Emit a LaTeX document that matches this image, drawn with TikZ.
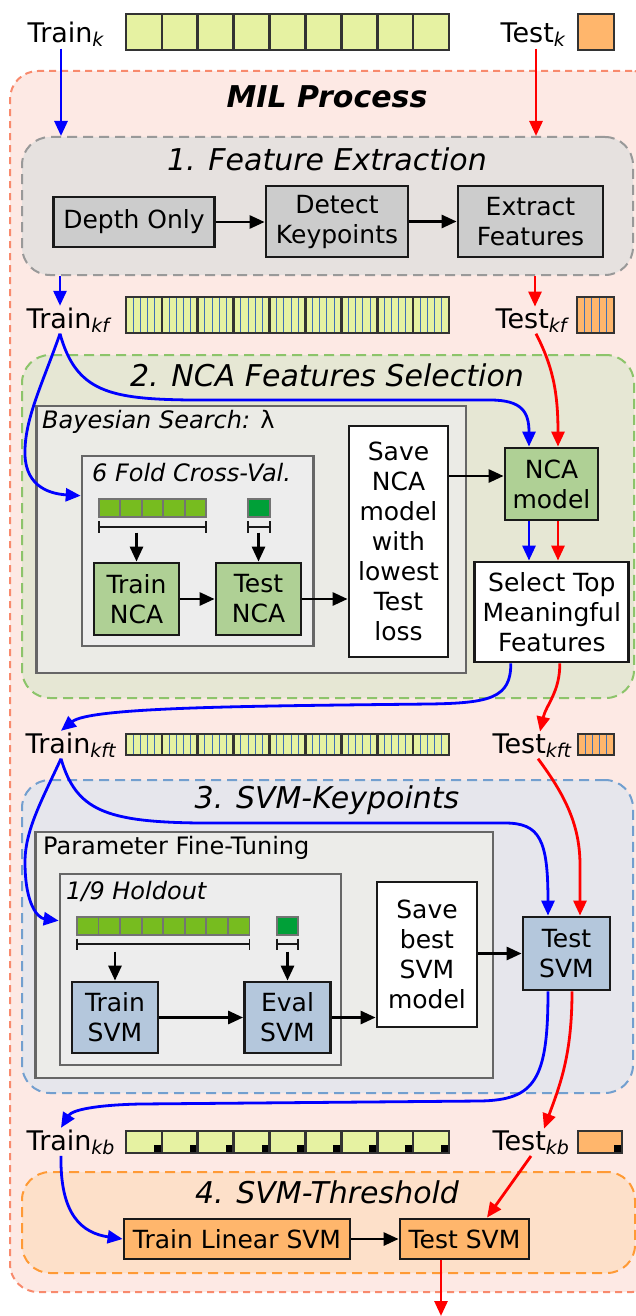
\documentclass[tikz,border=0pt]{standalone}
\usepackage{fontspec}
\setmainfont{DejaVu Sans}
\usetikzlibrary{arrows.meta,calc}

\definecolor{milfill}{HTML}{FDE9E4}
\definecolor{milline}{HTML}{F88A6D}
\definecolor{fefill}{HTML}{E6E1DF}
\definecolor{feline}{HTML}{999999}
\definecolor{ncafill}{HTML}{E6E7D4}
\definecolor{ncaline}{HTML}{8CC46A}
\definecolor{svmfill}{HTML}{E6E6EC}
\definecolor{svmline}{HTML}{729FCF}
\definecolor{thrfill}{HTML}{FDE0C9}
\definecolor{thrline}{HTML}{FF9A35}
\definecolor{innerfill}{HTML}{EBEBE6}
\definecolor{innerfillb}{HTML}{EDEDED}
\definecolor{innerline}{HTML}{666666}
\definecolor{nodegray}{HTML}{CCCCCC}
\definecolor{nodegreen}{HTML}{AFD095}
\definecolor{nodeblue}{HTML}{B4C7DC}
\definecolor{nodeorange}{HTML}{FFB66C}
\definecolor{celllime}{HTML}{E6F2A2}
\definecolor{cellgreen}{HTML}{77BC1F}
\definecolor{celltest}{HTML}{00A038}
\definecolor{cellline}{HTML}{333333}
\definecolor{stripe}{HTML}{3F6FB5}
\definecolor{arrowblue}{HTML}{0000FF}
\definecolor{arrowred}{HTML}{FF0000}

\newcommand\boxfont{\fontsize{25}{30}\selectfont}
\newcommand\regionfont{\fontsize{30}{36}\selectfont\itshape}
\newcommand\innerfont{\fontsize{24}{29}\selectfont}
\newcommand\setfont{\fontsize{27}{32}\selectfont}
\newcommand\dsname[2]{#1\raisebox{-4pt}{\fontsize{19}{19}\selectfont\itshape #2}}

\begin{document}
\begin{tikzpicture}[x=1pt,y=-1pt,
  region/.style={rounded corners=28pt, line width=2pt, dash pattern=on 10pt off 6pt, inner sep=0pt},
  innerbox/.style={draw=innerline, line width=2.6pt, inner sep=0pt},
  box/.style={draw=black!90, line width=2.8pt, inner sep=0pt, align=center, font=\boxfont},
  graynode/.style={box, fill=nodegray},
  greennode/.style={box, fill=nodegreen},
  bluenode/.style={box, fill=nodeblue},
  orangenode/.style={box, fill=nodeorange},
  whitenode/.style={box, fill=white},
  title/.style={font=\regionfont, inner sep=0pt},
  setlabel/.style={font=\setfont, inner sep=1.5pt, anchor=base west},
  cellborder/.style={draw=cellline, line width=2.6pt},
  smallcell/.style={draw=black!55, line width=1.8pt},
  stripeline/.style={draw=stripe, line width=1pt},
  bracket/.style={draw=black!90, line width=1.8pt},
  karrow/.style={draw=black, line width=2.8pt, -{Triangle[length=15pt,width=13pt]}},
  barrow/.style={draw=arrowblue, line width=2.8pt, -{Triangle[length=15pt,width=13pt]}},
  rarrow/.style={draw=arrowred, line width=2.8pt, -{Triangle[length=15pt,width=13pt]}}
]
\useasboundingbox (0,0) rectangle (636,1316);

% ---------- outer and stage regions ----------
\node[region, fill=milfill, draw=milline, dash pattern=on 7pt off 5pt,
      minimum width=650pt, minimum height=1221pt] (mil) at (335,681.5) {};
\node[font=\fontsize{30}{36}\selectfont\bfseries\itshape, inner sep=0pt] (miltitle) at (327,97) {MIL Process};

\node[region, fill=fefill, draw=feline, minimum width=611pt, minimum height=138pt] (fe) at (327.5,206) {};
\node[title] (fetitle) at (327,159) {1. Feature Extraction};

\node[region, fill=ncafill, draw=ncaline, minimum width=612pt, minimum height=343pt] (nca) at (328,526.5) {};
\node[title] (ncatitle) at (327,375) {2. NCA Features Selection};

\node[region, fill=svmfill, draw=svmline, minimum width=611pt, minimum height=313pt] (svm) at (327.5,936.5) {};
\node[title] (svmtitle) at (327,800) {3. SVM-Keypoints};

\node[region, fill=thrfill, draw=thrline, minimum width=613pt, minimum height=101pt] (thr) at (328.5,1222.5) {};
\node[title] (thrtitle) at (327,1192) {4. SVM-Threshold};

% ---------- inner search boxes ----------
\node[innerbox, fill=innerfill, minimum width=429.5pt, minimum height=267pt] (bay) at (251.25,539.5) {};
\node[font=\innerfont\itshape, anchor=west, inner sep=0pt] (baylabel) at (42,422) {Bayesian Search: {\upshape λ}};
\node[innerbox, fill=innerfillb, minimum width=231.6pt, minimum height=190pt] (fold) at (197.8,551) {};
\node[font=\innerfont\itshape, anchor=west, inner sep=0pt] (foldlabel) at (92,473) {6 Fold Cross-Val.};

\node[innerbox, fill=innerfill!60!innerfillb, minimum width=457.3pt, minimum height=246pt] (param) at (264.35,955) {};
\node[font=\innerfont, anchor=west, inner sep=0pt] (paramlabel) at (43,848) {Parameter Fine-Tuning};
\node[innerbox, fill=innerfillb, minimum width=281pt, minimum height=191pt] (hold) at (200.5,969.5) {};
\node[font=\innerfont\itshape, anchor=west, inner sep=0pt] (holdlabel) at (66,891) {1/9 Holdout};

% ---------- process steps ----------
\node[graynode, minimum width=161pt, minimum height=50pt] (depth) at (134,222) {Depth Only};
\node[graynode, minimum width=142pt, minimum height=71pt] (detect) at (337,221.5) {Detect\\Keypoints};
\node[graynode, minimum width=145pt, minimum height=71pt] (extract) at (530.5,221.5) {Extract\\Features};

\node[greennode, minimum width=85pt, minimum height=72pt] (trnca) at (136.5,599) {Train\\NCA};
\node[greennode, minimum width=85pt, minimum height=72pt] (tenca) at (258.5,599) {Test\\NCA};
\node[whitenode, minimum width=99pt, minimum height=231pt] (savenca) at (398.5,541.5) {Save\\NCA\\model\\with\\lowest\\Test\\loss};
\node[greennode, minimum width=93pt, minimum height=72pt] (ncam) at (551.5,484) {NCA\\model};
\node[whitenode, minimum width=154pt, minimum height=100pt] (select) at (551.8,612) {Select Top\\Meaningful\\Features};

\node[bluenode, minimum width=86pt, minimum height=71pt] (trsvm) at (115,1017.5) {Train\\SVM};
\node[bluenode, minimum width=86pt, minimum height=71pt] (evsvm) at (287.5,1017.5) {Eval\\SVM};
\node[whitenode, minimum width=100pt, minimum height=145pt] (savesvm) at (427,954.5) {Save\\best\\SVM\\model};
\node[bluenode, minimum width=87pt, minimum height=73pt] (tesvm) at (566.5,953.5) {Test\\SVM};

\node[orangenode, minimum width=226pt, minimum height=40pt] (trlin) at (237,1239) {Train Linear SVM};
\node[orangenode, minimum width=129pt, minimum height=40pt] (thrtest) at (464.5,1239) {Test SVM};

% ---------- data sets ----------
\node[setlabel] (trk) at (26,43) {\dsname{Train}{k}};
\node[setlabel] (tek) at (499,43) {\dsname{Test}{k}};
\node[setlabel] (trkf) at (25,328) {\dsname{Train}{kf}};
\node[setlabel] (tekf) at (494,328) {\dsname{Test}{kf}};
\node[setlabel] (trkft) at (24,753) {\dsname{Train}{kft}};
\node[setlabel] (tekft) at (491,753) {\dsname{Test}{kft}};
\node[setlabel] (trkb) at (25,1150) {\dsname{Train}{kb}};
\node[setlabel] (tekb) at (491,1150) {\dsname{Test}{kb}};

% plain training bag and test bag
\fill[celllime] (126,14) rectangle (449,50);
\foreach \i in {0,...,8} \draw[cellborder] ({126+\i*35.89},14) rectangle ++(35.89,36);
\draw[cellborder, fill=nodeorange] (578,14) rectangle (614,50);

% bags with extracted features (striped cells)
\fill[celllime] (126,297) rectangle (449,333);
\foreach \i in {0,...,8} \foreach \j in {1,...,4}
  \draw[stripeline] ({126+\i*35.89+\j*7.18},297) -- ++(0,36);
\foreach \i in {0,...,8} \draw[cellborder] ({126+\i*35.89},297) rectangle ++(35.89,36);
\fill[nodeorange] (577,297) rectangle (614,333);
\foreach \j in {1,...,4} \draw[stripeline] ({577+\j*7.4},297) -- ++(0,36);
\draw[cellborder] (577,297) rectangle (614,333);

% bags with selected features
\fill[celllime] (126,734) rectangle (449,755);
\foreach \i in {0,...,8} \foreach \j in {1,...,4}
  \draw[stripeline] ({126+\i*35.89+\j*7.18},734) -- ++(0,21);
\foreach \i in {0,...,8} \draw[cellborder] ({126+\i*35.89},734) rectangle ++(35.89,21);
\fill[nodeorange] (578,734) rectangle (614,755);
\foreach \j in {1,...,4} \draw[stripeline] ({578+\j*7.2},734) -- ++(0,21);
\draw[cellborder] (578,734) rectangle (614,755);

% bags of keypoint scores
\fill[celllime] (126,1131) rectangle (449,1153);
\foreach \i in {0,...,8} \fill[black] ({126+(\i+1)*35.89-8},1145) rectangle ++(8,8);
\foreach \i in {0,...,8} \draw[cellborder] ({126+\i*35.89},1131) rectangle ++(35.89,22);
\fill[nodeorange] (578,1131) rectangle (622,1153);
\fill[black] (614,1145) rectangle (622,1153);
\draw[cellborder] (578,1131) rectangle (622,1153);

% ---------- cross-validation folds ----------
\foreach \i in {0,...,4} \draw[smallcell, fill=cellgreen] ({98.6+\i*21.5},499) rectangle ++(21.5,18);
\draw[smallcell, fill=celltest] (248,499) rectangle (270,517);
\draw[bracket] (98.6,527) -- (206,527) (98.6,521) -- (98.6,533) (206,521) -- (206,533);
\draw[bracket] (248,527) -- (270,527) (248,521) -- (248,533) (270,521) -- (270,533);

\foreach \i in {0,...,7} \draw[smallcell, fill=cellgreen] ({77+\i*21.56},917) rectangle ++(21.56,18);
\draw[smallcell, fill=celltest] (276.7,917) rectangle (298,935);
\draw[bracket] (77,944) -- (249.5,944) (77,938.5) -- (77,950) (249.5,938.5) -- (249.5,950);
\draw[bracket] (276.7,944) -- (298,944) (276.7,938.5) -- (276.7,950) (298,938.5) -- (298,950);

% ---------- connector end points ----------
\coordinate (trk-out) at ($(trk.south west)+(35,0)$);
\coordinate (tek-out) at ($(tek.south west)+(37,0)$);
\coordinate (fe-trout) at ($(fe.south west)+(39,0)$);
\coordinate (fe-teout) at ($(fe.south west)+(514,0)$);
\coordinate (trkf-out) at ($(trkf.south west)+(35,0)$);
\coordinate (tekf-out) at ($(tekf.south west)+(42,0)$);
\coordinate (fold-in) at ($(fold.north west)+(0,41)$);
\coordinate (nca-bin) at ($(ncam.north)+(-22.5,0)$);
\coordinate (nca-rin) at ($(ncam.north)+(6.5,0)$);
\coordinate (nca-bout) at ($(ncam.south)+(-22.5,0)$);
\coordinate (nca-rout) at ($(ncam.south)+(6.5,0)$);
\coordinate (nca-side) at ($(ncam.west)+(0,-8)$);
\coordinate (sel-bout) at ($(select.south)+(-41,0)$);
\coordinate (sel-rout) at ($(select.south)+(8,0)$);
\coordinate (trkft-in) at ($(trkft.north west)+(37,0)$);
\coordinate (tekft-in) at ($(tekft.north west)+(49,0)$);
\coordinate (trkft-out) at ($(trkft.south west)+(37,0)$);
\coordinate (tekft-out) at ($(tekft.south west)+(47,0)$);
\coordinate (hold-in) at ($(hold.north west)+(0,48)$);
\coordinate (svm-bin) at ($(tesvm.north)+(-18.5,0)$);
\coordinate (svm-rin) at ($(tesvm.north)+(13.5,0)$);
\coordinate (svm-bout) at ($(tesvm.south)+(-18.5,0)$);
\coordinate (svm-rout) at ($(tesvm.south)+(5.5,0)$);
\coordinate (trkb-in) at ($(trkb.north west)+(36,0)$);
\coordinate (tekb-in) at ($(tekb.north west)+(53,0)$);
\coordinate (trkb-out) at ($(trkb.south west)+(36,0)$);
\coordinate (tekb-out) at ($(tekb.south west)+(40,0)$);
\coordinate (thr-rin) at ($(thrtest.north)+(22.5,0)$);
\coordinate (exit) at (441,1316);

% ---------- black process flow ----------
\draw[karrow] (depth.east) -- (detect.west |- depth.east);
\draw[karrow] (detect.east) -- (extract.west);
\draw[karrow] ($(trnca.north)+(0,-29)$) -- (trnca.north);
\draw[karrow] ($(tenca.north)+(0,-29)$) -- (tenca.north);
\draw[karrow] (trnca.east) -- (tenca.west);
\draw[karrow] (tenca.east) -- (savenca.west |- tenca.east);
\draw[karrow] (savenca.east |- nca-side) -- (nca-side);
\draw[karrow] ($(trsvm.north)+(0,-29)$) -- (trsvm.north);
\draw[karrow] ($(evsvm.north)+(0,-29)$) -- (evsvm.north);
\draw[karrow] (trsvm.east) -- (evsvm.west);
\draw[karrow] (evsvm.east) -- (savesvm.west |- evsvm.east);
\draw[karrow] (savesvm.east |- tesvm.west) -- (tesvm.west);
\draw[karrow] (trlin.east) -- (thrtest.west);

% ---------- training data flow (blue) ----------
\draw[barrow] (trk-out) -- (trk-out |- fe.north);
\draw[barrow] (fe-trout) -- (fe-trout |- trkf.north);
\draw[barrow] (trkf-out) .. controls (76,392) and (110,399) .. (190,400)
  -- (490,400) .. controls (522,400) and (529,412) .. (nca-bin);
\draw[barrow] (trkf-out) .. controls (42,385) and (24,420) .. (25,455)
  .. controls (26,488) and (52,494) .. (fold-in);
\draw[barrow] (nca-bout) -- (nca-bout |- select.north);
\draw[barrow] (sel-bout) .. controls (511,698) and (490,703) .. (430,704)
  .. controls (250,706) and (90,707) .. (trkft-in);
\draw[barrow] (trkft-out) .. controls (42,800) and (25,830) .. (25,862)
  .. controls (25,905) and (38,918) .. (hold-in);
\draw[barrow] (trkft-out) .. controls (76,810) and (105,822) .. (200,823)
  -- (505,823) .. controls (540,823) and (548,840) .. (svm-bin);
\draw[barrow] (svm-bout) .. controls (548,1080) and (535,1100) .. (480,1101)
  -- (140,1104) .. controls (95,1105) and (72,1110) .. (trkb-in);
\draw[barrow] (trkb-out) .. controls (60,1215) and (82,1233) .. (trlin.west);

% ---------- test data flow (red) ----------
\draw[rarrow] (tek-out) -- (tek-out |- fe.north);
\draw[rarrow] (fe-teout) -- (fe-teout |- tekf.north);
\draw[rarrow] (tekf-out) .. controls (552,365) and (558,390) .. (nca-rin);
\draw[rarrow] (nca-rout) -- (nca-rout |- select.north);
\draw[rarrow] (sel-rout) .. controls (560,692) and (546,705) .. (tekft-in);
\draw[rarrow] (tekft-out) .. controls (565,795) and (580,825) .. (580,865) -- (svm-rin);
\draw[rarrow] (svm-rout) .. controls (572,1055) and (560,1085) .. (tekb-in);
\draw[rarrow] (tekb-out) -- (thr-rin);
\draw[rarrow] (exit |- thrtest.south) -- (exit);
\end{tikzpicture}
\end{document}
